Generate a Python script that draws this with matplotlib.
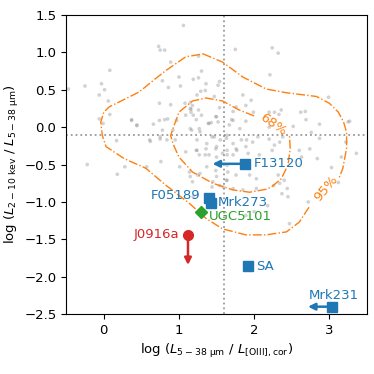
import numpy as np
import matplotlib
matplotlib.use("Agg")
import matplotlib.pyplot as plt

# background sample (grey points)
sample_x = [-0.47, -0.25, -0.03, -0.06, 0.01, 0.08, 0.06, 0.08, -0.06, -0.01, 0.37, 0.44, 0.66, 0.74, 0.81,
            0.73, 0.75, 0.81, 0.78, 0.74, 0.78,
            1.06, 1.75, 1.26, 0.89, 1.30, 1.00, 1.19, 1.26, 1.02, 0.86, 1.36, 1.35, 1.52, 1.54, 1.29, 1.24, 1.47,
            1.85, 0.89, 1.15, 1.18, 1.16, 1.16, 1.26, 1.09, 1.30, 1.54, 1.72, 1.76, 1.89, 1.96, 1.99, 0.85, 1.23,
            1.40, 1.43, 1.52, 1.70, 1.67, 1.49, 1.89, 1.15, 1.27,
            2.24, 2.32, 2.21, 2.99, 2.20, 2.27, 2.33, 2.36, 2.62, 2.68, 2.69, 2.87, 2.52, 3.25, 3.27, 2.20, 2.76,
            0.17, -0.22, 0.28, 0.18, 0.57, 0.62, 0.75, 0.76,
            1.47, 1.63, 1.72, 1.83, 1.98, 2.05, 1.36, 1.49, 1.58, 1.23, 1.27, 1.09, 1.40, 1.72, 1.92, 2.07, 1.76,
            1.89, 1.14, 1.25, 1.49, 1.65, 1.76, 1.94, 2.03, 1.63, 1.45, 1.54, 1.72, 1.85, 2.03, 1.18, 1.89, 2.00,
            2.20, 2.27, 2.34, 2.24, 2.38, 2.60, 2.74, 2.87, 3.22, 3.36, 3.16, 2.84, 2.63, 3.03, 2.32, 2.40, 2.26,
            2.34, 2.44, 2.37, 2.45, 2.72, 3.12, 2.47, 2.18,
            1.08, 1.15, 1.19, 1.39, 1.50, 1.72, 1.81, 1.17, 1.28, 1.44, 1.55, 1.64, 1.24, 1.37, 1.50, 1.64, 1.77,
            1.90, 1.24, 1.35, 1.50, 1.64, 1.64, 1.37, 1.15, 1.28, 1.50, 1.64, 1.44, 1.59, 1.19, 1.01, 0.95, 0.92,
            0.97, 0.84, 0.75, 0.61, 0.44, 0.37]
sample_y = [0.51, 0.55, 0.58, 0.43, 0.50, 0.76, 0.35, 0.17, 0.11, 0.05, 0.10, 0.02, 0.04, 0.09, 0.10,
            1.08, 1.03, 1.03, 0.62, 0.32, -0.04,
            1.36, 1.04, 0.95, 0.87, 0.75, 0.67, 0.64, 0.66, 0.55, 0.53, 0.58, 0.49, 0.56, 0.61, 0.48, 0.43, 0.41,
            0.43, 0.30, 0.33, 0.29, 0.24, 0.20, 0.23, 0.16, 0.16, 0.26, 0.21, 0.27, 0.29, 0.36, 0.20, 0.11, 0.10,
            0.05, 0.06, 0.07, 0.10, 0.03, 0.14, 0.08, -0.02, -0.02,
            1.06, 0.99, 0.70, 0.40, 0.20, 0.20, 0.17, 0.23, 0.20, 0.21, 0.10, 0.04, 0.01, 0.07, 0.08, 0.00, -0.07,
            -0.18, -0.50, -0.53, -0.63, -0.53, -0.19, -0.16, -0.46,
            -0.13, -0.15, -0.22, -0.17, -0.20, -0.13, -0.29, -0.29, -0.35, -0.31, -0.37, -0.33, -0.37, -0.37,
            -0.35, -0.37, -0.29, -0.26, -0.60, -0.64, -0.58, -0.60, -0.64, -0.64, -0.69, -0.71, -0.73, -0.78,
            -0.82, -0.84, -0.82, -0.73, -1.18, -1.13,
            -0.16, -0.24, -0.20, -0.31, -0.13, -0.31, -0.29, -0.15, -0.20, -0.35, -0.40, -0.42, -0.40, -0.54,
            -0.64, -0.71, -0.78, -0.75, -0.82, -0.89, -0.93, -1.00, -0.74, -1.29, -1.05,
            0.32, 0.25, 0.16, 0.05, 0.14, 0.09, -0.02, -0.04, -0.06, -0.13, -0.17, -0.11, -0.17, -0.22, -0.26,
            -0.31, -0.31, -0.17, -0.31, -0.37, -0.40, -0.37, -0.51, -0.53, -0.66, -0.62, -0.66, -0.71, -0.80,
            -0.80, -0.93, -0.53, -0.17, -0.04, 0.09, -0.17, -0.13, -0.17, 0.03, 0.09]

# 95% and 68% contours (split where the labels sit)
c95_a_x = [1.32, 1.58, 1.85, 2.16, 2.43, 2.83, 3.00, 3.12, 3.19, 3.23, 3.23, 3.18, 3.13]
c95_a_y = [0.98, 0.87, 0.67, 0.51, 0.46, 0.41, 0.32, 0.20, 0.07, -0.07, -0.28, -0.55, -0.68]
c95_b_x = [2.73, 2.60, 2.43, 2.16, 1.89, 1.58, 1.36, 1.14, 0.83, 0.56, 0.27, 0.03, -0.02, -0.04, 0.00,
           0.07, 0.47, 0.69, 0.83, 1.09, 1.32]
c95_b_y = [-1.07, -1.27, -1.40, -1.44, -1.44, -1.36, -1.22, -1.02, -0.78, -0.55, -0.42, -0.26, -0.11, 0.07,
           0.20, 0.27, 0.47, 0.65, 0.76, 0.94, 0.98]
c68_a_x = [2.00, 1.80, 1.58, 1.36, 1.18, 1.00, 0.92, 0.89, 0.92, 1.00, 1.18, 1.45, 1.72, 1.94, 2.16, 2.23,
           2.36, 2.45, 2.48, 2.47]
c68_a_y = [0.15, 0.23, 0.35, 0.39, 0.35, 0.20, -0.02, -0.11, -0.22, -0.40, -0.60, -0.75, -0.84, -0.87, -0.83,
           -0.80, -0.69, -0.51, -0.29, -0.11]

# named sources
src_x = [1.88, 1.40, 1.43, 1.92, 3.04]
src_y = [-0.49, -0.95, -1.01, -1.86, -2.40]
ugc_x, ugc_y = 1.29, -1.13
j0916_x, j0916_y = 1.12, -1.44

fig, ax = plt.subplots(figsize=(3.74, 3.74), dpi=100)
fig.subplots_adjust(left=0.177, right=0.981, bottom=0.16, top=0.96)

ax.scatter(sample_x, sample_y, s=7, color="grey", alpha=0.35, edgecolors="none", zorder=1)
ax.axvline(1.6, color="grey", ls=":", lw=1.3, alpha=0.8, zorder=0)
ax.axhline(-0.1, color="grey", ls=":", lw=1.3, alpha=0.8, zorder=0)

ax.plot(c95_a_x, c95_a_y, color="C1", ls="-.", lw=1.0)
ax.plot(c95_b_x, c95_b_y, color="C1", ls="-.", lw=1.0)
ax.plot(c68_a_x, c68_a_y, color="C1", ls="-.", lw=1.0)
ax.text(2.25, 0.04, "68%", color="C1", fontsize=9.5, rotation=-35, ha="center", va="center")
ax.text(2.95, -0.82, "95%", color="C1", fontsize=9.5, rotation=50, ha="center", va="center")

ax.plot(src_x, src_y, "s", color="C0", ms=7, ls="none", zorder=3)
ax.plot(ugc_x, ugc_y, "D", color="C2", ms=6.5, zorder=3)
ax.plot(j0916_x, j0916_y, "o", color="C3", ms=7, zorder=3)

arr = dict(arrowstyle="-|>", lw=1.8, mutation_scale=10)
ax.annotate("", xy=(1.41, -0.49), xytext=(1.88, -0.49), arrowprops=dict(arr, color="C0"))
ax.annotate("", xy=(2.68, -2.40), xytext=(3.04, -2.40), arrowprops=dict(arr, color="C0"))
ax.annotate("", xy=(1.12, -1.88), xytext=(1.12, -1.44), arrowprops=dict(arr, color="C3"))

fs = 9.5
ax.text(1.99, -0.49, "F13120", color="C0", fontsize=fs, ha="left", va="center")
ax.text(1.29, -0.91, "F05189", color="C0", fontsize=fs, ha="right", va="center")
ax.text(1.52, -1.01, "Mrk273", color="C0", fontsize=fs, ha="left", va="center")
ax.text(2.03, -1.86, "SA", color="C0", fontsize=fs, ha="left", va="center")
ax.text(3.06, -2.25, "Mrk231", color="C0", fontsize=fs, ha="center", va="center")
ax.text(1.40, -1.20, "UGC5101", color="C2", fontsize=fs, ha="left", va="center")
ax.text(1.01, -1.44, "J0916a", color="C3", fontsize=fs, ha="right", va="center")

ax.set_xlim(-0.5, 3.5)
ax.set_ylim(-2.5, 1.5)
ax.set_xticks([0, 1, 2, 3])
ax.set_yticks(np.arange(-2.5, 1.51, 0.5))
ax.tick_params(labelsize=9.5)
ax.set_xlabel(r"log ($L_{\rm 5-38\ \mu m}$ / $L_{\rm [OIII], cor}$)", fontsize=9.5)
ax.set_ylabel(r"log ($L_{\rm 2-10\ kev}$ / $L_{\rm 5-38\ \mu m}$)", fontsize=9.5, labelpad=2)

plt.savefig("out.png", dpi=100)
